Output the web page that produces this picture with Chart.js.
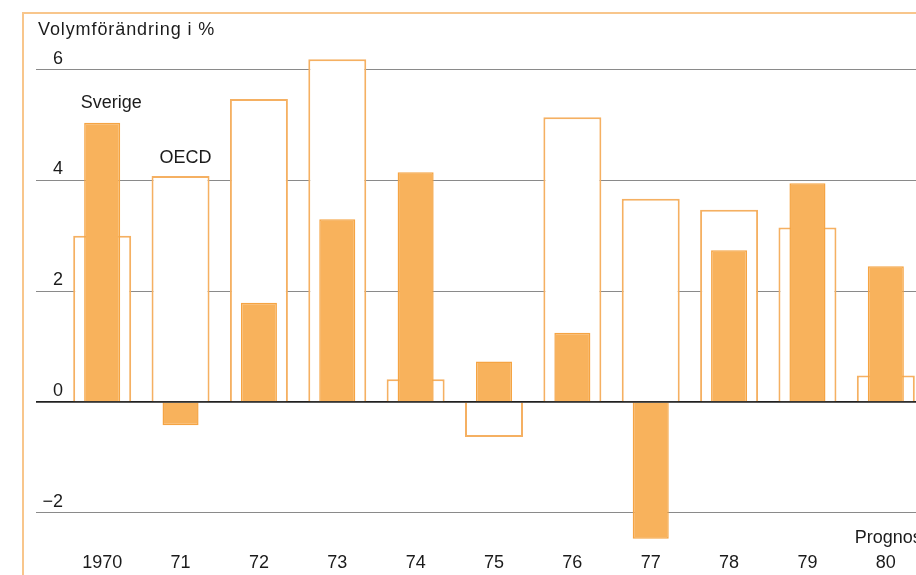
<!DOCTYPE html>
<html>
<head>
<meta charset="utf-8">
<script src="https://cdn.jsdelivr.net/npm/chart.js@4.4.1/dist/chart.umd.min.js"></script>
<style>
  html, body { margin: 0; padding: 0; background: #fff; }
  #wrap { position: relative; width: 916px; height: 575px; overflow: hidden; }
  #frame { position: absolute; left: 22px; top: 12px; width: 1000px; height: 1000px;
           border-left: 2px solid #f8c68c; border-top: 2px solid #f8c68c; }
  canvas { position: absolute; left: 0; top: 0; }
</style>
</head>
<body>
<div id="wrap">
  <div id="frame"></div>
  <canvas id="chart" width="960" height="575"></canvas>
</div>
<script>
const years = ['1970', '71', '72', '73', '74', '75', '76', '77', '78', '79', '80'];
const oecd = [3.0, 4.08, 5.47, 6.19, 0.41, -0.63, 5.14, 3.67, 3.47, 3.15, 0.48];
const sverige = [5.04, -0.42, 1.79, 3.3, 4.15, 0.73, 1.25, -2.47, 2.74, 3.95, 2.45];
const yTicks = [-2, 0, 2, 4, 6];

const FONT = '"Liberation Sans", Arial, sans-serif';
const INK = '#1b1b1b';

// labels, zero line and title drawn on top of the bars
const extras = {
  id: 'extras',
  afterDatasetsDraw(chart) {
    const { ctx, chartArea, scales: { x, y } } = chart;
    ctx.save();

    const y0 = y.getPixelForValue(0);
    ctx.strokeStyle = '#222';
    ctx.lineWidth = 1.3;
    ctx.beginPath();
    ctx.moveTo(chartArea.left - 27, y0);
    ctx.lineTo(chartArea.right + 40, y0);
    ctx.stroke();

    ctx.fillStyle = INK;
    ctx.font = '18px ' + FONT;
    ctx.textBaseline = 'middle';

    ctx.textAlign = 'center';
    ctx.fillText('Sverige', x.getPixelForValue(0) + 9, y.getPixelForValue(sverige[0]) - 20);
    ctx.fillText('OECD', x.getPixelForValue(1) + 5, y.getPixelForValue(oecd[1]) - 18);

    ctx.textAlign = 'left';
    ctx.fillText('Prognos', x.getPixelForValue(10) - 31, chartArea.bottom - 8);

    if ('letterSpacing' in ctx) ctx.letterSpacing = '0.9px';
    ctx.fillText('Volymförändring i %', 38, 30);
    ctx.restore();
  }
};

new Chart(document.getElementById('chart'), {
  type: 'bar',
  data: {
    labels: years,
    datasets: [
      {
        label: 'Sverige',
        data: sverige,
        order: 0,
        grouped: false,
        categoryPercentage: 1,
        barPercentage: 0.46,
        backgroundColor: '#f8b25c',
        borderColor: '#f5a443',
        borderWidth: 1.5
      },
      {
        label: 'OECD',
        data: oecd,
        order: 1,
        grouped: false,
        categoryPercentage: 1,
        barPercentage: 0.74,
        backgroundColor: '#ffffff',
        borderColor: '#f5b062',
        borderWidth: 2
      }
    ]
  },
  options: {
    responsive: false,
    animation: false,
    layout: { padding: { left: 36, right: 35, top: 42, bottom: 0 } },
    plugins: { legend: { display: false }, tooltip: { enabled: false } },
    scales: {
      x: {
        grid: { display: false, drawTicks: false },
        border: { display: false },
        ticks: { color: INK, font: { family: FONT, size: 18 }, padding: 6, maxRotation: 0 },
        afterFit: s => { s.height = 29; }
      },
      y: {
        min: -2.6,
        max: 6.5,
        afterBuildTicks: s => { s.ticks = yTicks.map(v => ({ value: v })); },
        grid: {
          color: c => (c.tick && c.tick.value === 0) ? '#222' : '#8a8a8a',
          lineWidth: 1,
          drawTicks: true,
          tickLength: 27
        },
        border: { display: false },
        ticks: {
          color: INK,
          font: { family: FONT, size: 18 },
          padding: -27,
          labelOffset: -11,
          callback: v => v < 0 ? '\u2212' + Math.abs(v) : String(v)
        },
        afterFit: s => { s.width = 27; }
      }
    }
  },
  plugins: [extras]
});
</script>
</body>
</html>
